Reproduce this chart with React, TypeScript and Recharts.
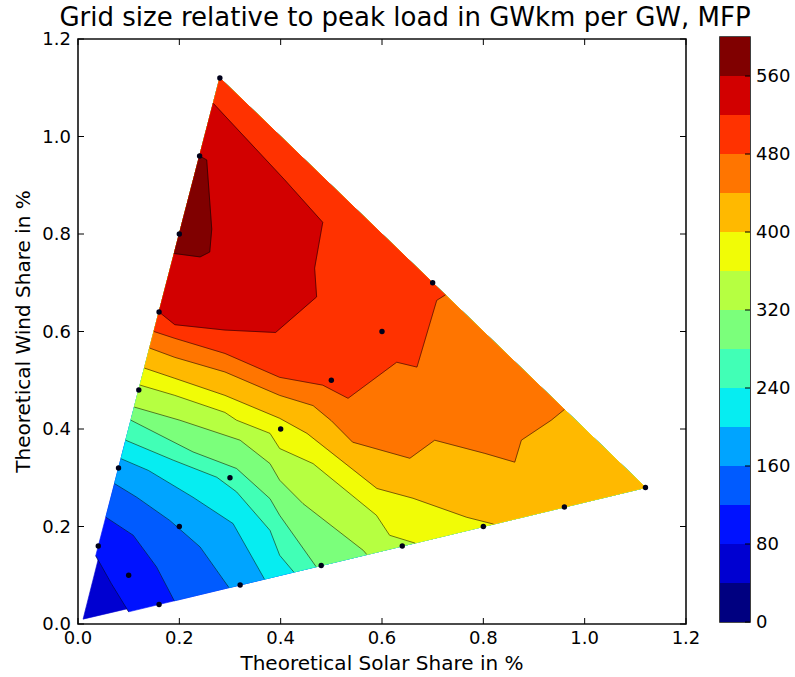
import React from "react";
import {
  ScatterChart,
  Scatter,
  XAxis,
  YAxis,
  ReferenceArea,
  BarChart,
  Bar,
} from "recharts";

const FONT = '"DejaVu Sans", Verdana, sans-serif';

// axis ticks
const AXIS_TICKS = [0, 0.2, 0.4, 0.6, 0.8, 1.0, 1.2];
const CB_TICKS = [0, 80, 160, 240, 320, 400, 480, 560];

// contour levels and the jet colour of each band
const LEVELS = [0, 40, 80, 120, 160, 200, 240, 280, 320, 360, 400, 440, 480, 520, 560, 600];
const BAND_COLORS = [
  "#000080", "#0000D1", "#0012FF", "#005BFF", "#00A4FF",
  "#06EDF1", "#41FFB6", "#7BFF7B", "#B6FF41", "#F1FC06",
  "#FFB900", "#FF7500", "#FF3200", "#D20000", "#800000",
];

// sampled scenarios (solar share, wind share)
const SOLAR = [0.04, 0.08, 0.12, 0.16, 0.2, 0.24, 0.28, 0.1, 0.2, 0.3, 0.4, 0.5, 0.6, 0.7, 0.16, 0.32, 0.48, 0.64, 0.8, 0.96, 1.12];
const WIND = [0.16, 0.32, 0.48, 0.64, 0.8, 0.96, 1.12, 0.1, 0.2, 0.3, 0.4, 0.5, 0.6, 0.7, 0.04, 0.08, 0.12, 0.16, 0.2, 0.24, 0.28];

// interpolation domain: origin, top (wind) corner, right (solar) corner
const TRIANGLE: [number, number][] = [[0.01, 0.01], [0.28, 1.12], [1.12, 0.28]];

// contour lines, each starting on the left edge
const C80: [number, number][] = [[0.035, 0.14], [0.066, 0.0825], [0.1, 0.025]];
const C120: [number, number][] = [[0.055, 0.219], [0.109, 0.182], [0.155, 0.117], [0.19, 0.0475]];
const C160: [number, number][] = [[0.072, 0.288], [0.116, 0.26], [0.181, 0.2125], [0.241, 0.158], [0.298, 0.0745]];
const C200: [number, number][] = [[0.085, 0.339], [0.139, 0.315], [0.227, 0.26], [0.306, 0.206], [0.368, 0.092]];
const C240: [number, number][] = [[0.094, 0.377], [0.188, 0.336], [0.274, 0.301], [0.313, 0.271], [0.379, 0.192], [0.398, 0.141], [0.426, 0.1065]];
const C280: [number, number][] = [[0.1045, 0.418], [0.227, 0.353], [0.313, 0.319], [0.379, 0.257], [0.398, 0.223], [0.47, 0.1175]];
const C320: [number, number][] = [[0.111, 0.445], [0.201, 0.418], [0.32, 0.377], [0.379, 0.329], [0.398, 0.295], [0.444, 0.247], [0.563, 0.151], [0.57, 0.1425]];
const C360: [number, number][] = [[0.1225, 0.49], [0.191, 0.469], [0.29, 0.434], [0.313, 0.418], [0.379, 0.391], [0.398, 0.36], [0.464, 0.329], [0.589, 0.223], [0.615, 0.182], [0.665, 0.166]];
const C400: [number, number][] = [[0.131, 0.525], [0.191, 0.504], [0.29, 0.469], [0.398, 0.422], [0.452, 0.391], [0.59, 0.278], [0.661, 0.258], [0.767, 0.219], [0.82, 0.205]];
const C440: [number, number][] = [[0.1415, 0.566], [0.191, 0.547], [0.29, 0.517], [0.398, 0.469], [0.464, 0.448], [0.5, 0.417], [0.542, 0.373], [0.655, 0.34], [0.704, 0.377], [0.803, 0.35], [0.862, 0.332], [0.875, 0.377], [0.934, 0.418], [0.96, 0.44]];
const C480: [number, number][] = [[0.15, 0.6], [0.191, 0.586], [0.29, 0.555], [0.398, 0.506], [0.483, 0.49], [0.533, 0.463], [0.629, 0.537], [0.669, 0.527], [0.708, 0.664], [0.725, 0.675]];
const C520: [number, number][] = [[0.16, 0.64], [0.191, 0.614], [0.29, 0.603], [0.39, 0.598], [0.471, 0.671], [0.467, 0.73], [0.483, 0.824], [0.408, 0.911], [0.267, 1.068]];
const C560: [number, number][] = [[0.19, 0.76], [0.241, 0.753], [0.26, 0.763], [0.264, 0.81], [0.254, 0.952], [0.24, 0.96]];

// contour for LEVELS[2] .. LEVELS[14]
const CONTOURS = [C80, C120, C160, C200, C240, C280, C320, C360, C400, C440, C480, C520, C560];

const CHART_W = 700;
const CHART_H = 677;
const MARGIN = { top: 39, right: 14, bottom: 3, left: 18 };
const PLOT_TOP = MARGIN.top;
const PLOT_RIGHT = CHART_W - MARGIN.right;
const TICK_LEN = 6;

type Pt = { x: number; y: number };

const toPts = (arr: [number, number][]): Pt[] => arr.map(([x, y]) => ({ x, y }));

// close a superlevel region along the triangle edges
function closeRegion(line: [number, number][]): [number, number][] {
  const [x, y] = line[line.length - 1];
  if (Math.abs(x + y - 1.4) < 0.03) return [...line, TRIANGLE[1]];
  if (x > 0.05 && Math.abs(y - x / 4) < 0.03) return [...line, TRIANGLE[2], TRIANGLE[1]];
  return line;
}

const fillPath = (color: string) => (p: any) => {
  const pts: Pt[] = p?.points || [];
  if (!pts.length) return <g />;
  const d = pts.map((q, i) => `${i ? "L" : "M"}${q.x},${q.y}`).join("") + "Z";
  return <path d={d} fill={color} stroke={color} strokeWidth={0.6} />;
};

const strokePath = (p: any) => {
  const pts: Pt[] = p?.points || [];
  if (!pts.length) return <g />;
  const d = pts.map((q, i) => `${i ? "L" : "M"}${q.x},${q.y}`).join("");
  return <path d={d} fill="none" stroke="#000" strokeOpacity={0.65} strokeWidth={0.8} />;
};

const noShape = () => <g />;

const dotShape = (p: any) => <circle cx={p.cx} cy={p.cy} r={2.7} fill="#00001a" />;

function XTick({ x, y, payload }: any) {
  return (
    <g>
      <line x1={x} x2={x} y1={y} y2={y - TICK_LEN} stroke="#000" />
      <line x1={x} x2={x} y1={PLOT_TOP} y2={PLOT_TOP + TICK_LEN} stroke="#000" />
      <text x={x} y={y + 20} textAnchor="middle" fontSize={18} fontFamily={FONT} fill="#000">
        {Number(payload.value).toFixed(1)}
      </text>
    </g>
  );
}

function YTick({ x, y, payload }: any) {
  return (
    <g>
      <line x1={x} x2={x + TICK_LEN} y1={y} y2={y} stroke="#000" />
      <line x1={PLOT_RIGHT} x2={PLOT_RIGHT - TICK_LEN} y1={y} y2={y} stroke="#000" />
      <text x={x - 7} y={y} dy="0.36em" textAnchor="end" fontSize={18} fontFamily={FONT} fill="#000">
        {Number(payload.value).toFixed(1)}
      </text>
    </g>
  );
}

function CbTick({ x, y, payload }: any) {
  return (
    <g>
      <line x1={x} x2={x - 5} y1={y} y2={y} stroke="#000" />
      <text x={x + 6} y={y} dy="0.36em" textAnchor="start" fontSize={18} fontFamily={FONT} fill="#000">
        {payload.value}
      </text>
    </g>
  );
}

export default function App() {
  const regions = [TRIANGLE, ...CONTOURS.map(closeRegion)];
  const samples = SOLAR.map((s, i) => ({ x: s, y: WIND[i] }));
  const cbRow: Record<string, number | string> = { name: "cb" };
  BAND_COLORS.forEach((_, i) => {
    cbRow[`b${i}`] = LEVELS[i + 1] - LEVELS[i];
  });

  return (
    <div style={{ position: "absolute", left: 0, top: 0, width: 795, height: 677, background: "#fff", overflow: "hidden" }}>
      <div
        style={{
          position: "absolute",
          left: 0,
          width: 810,
          top: 2,
          textAlign: "center",
          fontFamily: FONT,
          fontSize: 26,
          color: "#000",
          whiteSpace: "nowrap",
        }}
      >
        Grid size relative to peak load in GWkm per GW, MFP
      </div>

      <div style={{ position: "absolute", left: 0, top: 0 }}>
        <ScatterChart width={CHART_W} height={CHART_H} margin={MARGIN}>
          <XAxis
            type="number"
            dataKey="x"
            domain={[0, 1.2]}
            ticks={AXIS_TICKS}
            height={50}
            tickSize={0}
            tickMargin={0}
            axisLine={false}
            tick={(p: any) => <XTick {...p} />}
            label={{
              value: "Theoretical Solar Share in %",
              position: "insideBottom",
              offset: 4,
              style: { fontSize: 20, fontFamily: FONT, fill: "#000" },
            }}
          />
          <YAxis
            type="number"
            dataKey="y"
            domain={[0, 1.2]}
            ticks={AXIS_TICKS}
            width={60}
            tickSize={0}
            tickMargin={0}
            axisLine={false}
            tick={(p: any) => <YTick {...p} />}
            label={{
              value: "Theoretical Wind Share in %",
              angle: -90,
              position: "insideLeft",
              offset: 5,
              style: { textAnchor: "middle", fontSize: 20, fontFamily: FONT, fill: "#000" },
            }}
          />
          {regions.map((r, i) => (
            <Scatter
              key={`band-${i}`}
              data={toPts(r)}
              line={fillPath(BAND_COLORS[i + 1])}
              lineType="joint"
              shape={noShape}
              isAnimationActive={false}
            />
          ))}
          {CONTOURS.map((c, i) => (
            <Scatter
              key={`line-${i}`}
              data={toPts(c)}
              line={strokePath}
              lineType="joint"
              shape={noShape}
              isAnimationActive={false}
            />
          ))}
          <Scatter data={samples} shape={dotShape} isAnimationActive={false} />
          <ReferenceArea x1={0} x2={1.2} y1={0} y2={1.2} fill="none" fillOpacity={0} stroke="#111" strokeWidth={1.6} ifOverflow="visible" />
        </ScatterChart>
      </div>

      <div style={{ position: "absolute", left: 700, top: 0 }}>
        <BarChart width={95} height={CHART_H} data={[cbRow]} margin={{ top: 37, right: 0, bottom: 55, left: 20 }} barCategoryGap={0} barGap={0}>
          <XAxis dataKey="name" hide />
          <YAxis
            orientation="right"
            type="number"
            domain={[0, 600]}
            ticks={CB_TICKS}
            width={45}
            tickSize={0}
            tickMargin={0}
            axisLine={false}
            tick={(p: any) => <CbTick {...p} />}
          />
          {BAND_COLORS.map((c, i) => (
            <Bar key={`cb-${i}`} dataKey={`b${i}`} stackId="cb" fill={c} isAnimationActive={false} />
          ))}
          <ReferenceArea y1={0} y2={600} fill="none" fillOpacity={0} stroke="#111" strokeWidth={1.6} ifOverflow="visible" />
        </BarChart>
      </div>
    </div>
  );
}
